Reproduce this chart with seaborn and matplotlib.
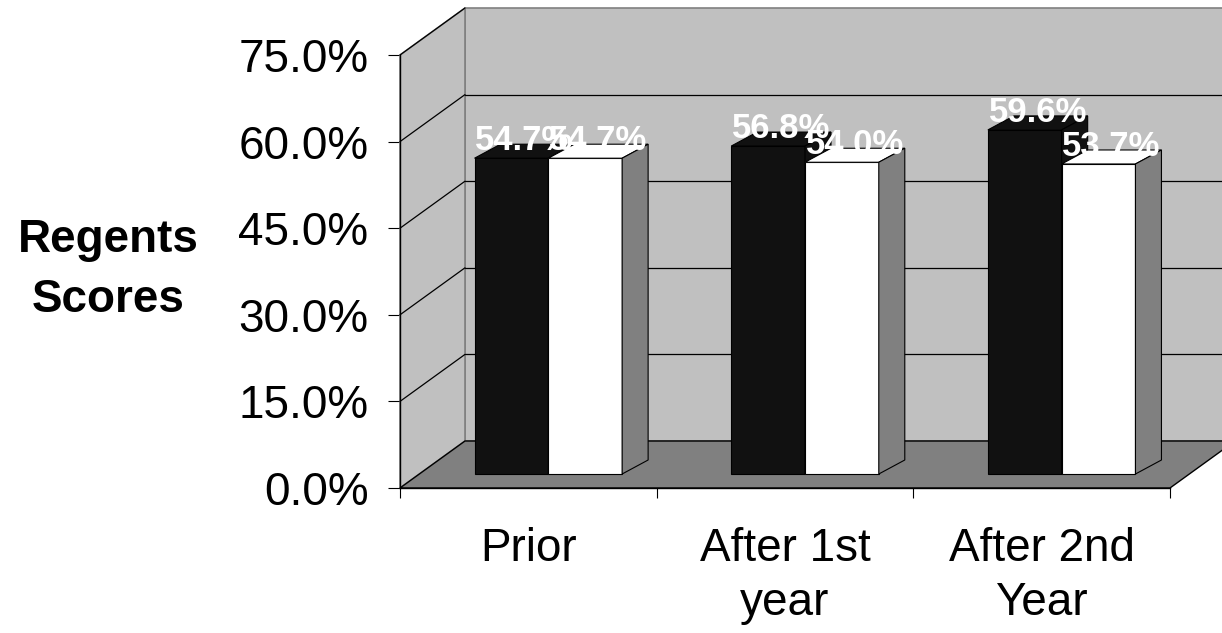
"""Regents scores before/after, drawn as an Excel-style pseudo-3D bar chart."""

import matplotlib
matplotlib.use("Agg")
import matplotlib.pyplot as plt
import matplotlib.transforms as mtransforms
import pandas as pd
import seaborn as sns
from matplotlib.patches import Polygon
from matplotlib.ticker import StrMethodFormatter

PERIODS = ["Prior", "After 1st\nyear", "After 2nd\nYear"]
GROUPS = ["Group 1", "Group 2"]
SCORES_GROUP1 = [54.7, 56.8, 59.6]
SCORES_GROUP2 = [54.7, 54.0, 53.7]
Y_TICKS = [0, 15, 30, 45, 60, 75]

FRONT_COLORS = ["#111111", "#FFFFFF"]
SIDE_COLORS = ["#111111", "#808080"]
WALL = "#C0C0C0"
FLOOR = "#808080"

# fake 3D geometry, in pixels (y up)
BAR_SHIFT = (20, 14)
BAR_DEPTH = (26, 14)
WALL_DEPTH = (65, 47)


def main() -> None:
    sns.set_theme(style="white")
    plt.rcParams["font.family"] = ["Liberation Sans", "DejaVu Sans"]
    for key in ("text.color", "axes.labelcolor", "xtick.color", "ytick.color"):
        plt.rcParams[key] = "black"

    df = pd.DataFrame({
        "period": PERIODS * 2,
        "group": [GROUPS[0]] * len(PERIODS) + [GROUPS[1]] * len(PERIODS),
        "score": SCORES_GROUP1 + SCORES_GROUP2,
    })

    fig = plt.figure(figsize=(12.22, 6.33), dpi=100)
    ax = fig.add_axes([400 / 1222, 145 / 633, 770 / 1222, 433 / 633])

    sns.barplot(
        data=df, x="period", y="score", hue="group",
        palette=FRONT_COLORS, saturation=1, width=0.575, gap=0,
        edgecolor="black", linewidth=0.8, errorbar=None, legend=False, ax=ax,
    )
    bars = list(ax.patches)

    ax.set_xlim(-0.5, 2.5)
    ax.set_ylim(0, 75)
    ax.set_autoscale_on(False)

    # pixels per data unit
    p0 = ax.transData.transform((0, 0))
    p1 = ax.transData.transform((1, 1))
    sx, sy = p1[0] - p0[0], p1[1] - p0[1]
    bdx, bdy = BAR_DEPTH[0] / sx, BAR_DEPTH[1] / sy
    wdx, wdy = WALL_DEPTH[0] / sx, WALL_DEPTH[1] / sy

    # walls and floor
    x_lo, x_hi, y_top = -0.5, 2.5, Y_TICKS[-1]
    ax.add_patch(Polygon(
        [(x_lo + wdx, wdy), (x_hi + wdx, wdy), (x_hi + wdx, y_top + wdy), (x_lo + wdx, y_top + wdy)],
        closed=True, fc=WALL, ec=FLOOR, lw=1.2, zorder=0.5, clip_on=False,
    ))
    ax.add_patch(Polygon(
        [(x_lo, 0), (x_lo + wdx, wdy), (x_lo + wdx, y_top + wdy), (x_lo, y_top)],
        closed=True, fc=WALL, ec=FLOOR, lw=1.2, zorder=0.6, clip_on=False,
    ))
    for v in Y_TICKS[1:]:
        if v < y_top:
            ax.plot([x_lo + wdx, x_hi + wdx], [v + wdy, v + wdy], color="black",
                    lw=0.9, zorder=0.7, clip_on=False)
        ax.plot([x_lo, x_lo + wdx], [v, v + wdy], color="black", lw=0.9,
                zorder=0.7, clip_on=False)
    ax.add_patch(Polygon(
        [(x_lo, 0), (x_hi, 0), (x_hi + wdx, wdy), (x_lo + wdx, wdy)],
        closed=True, fc=FLOOR, ec="black", lw=1, zorder=0.8, clip_on=False,
    ))

    # bars: push the front faces back into the box, then add tops and sides
    front = mtransforms.offset_copy(ax.transData, fig=fig, x=BAR_SHIFT[0],
                                    y=BAR_SHIFT[1], units="dots")
    label_tr = mtransforms.offset_copy(ax.transData, fig=fig, x=BAR_SHIFT[0],
                                       y=BAR_SHIFT[1] + 8, units="dots")
    n = len(PERIODS)
    for i, bar in enumerate(bars):
        g = i // n
        bar.set_transform(front)
        bar.set_zorder(3 + g)
        bar.set_clip_on(False)
        x0 = bar.get_x()
        x1 = x0 + bar.get_width()
        h = bar.get_height()
        ax.add_patch(Polygon(
            [(x0, h), (x1, h), (x1 + bdx, h + bdy), (x0 + bdx, h + bdy)],
            closed=True, fc=FRONT_COLORS[g], ec="black", lw=0.8,
            transform=front, zorder=3 + g, clip_on=False,
        ))
        ax.add_patch(Polygon(
            [(x1, 0), (x1 + bdx, bdy), (x1 + bdx, h + bdy), (x1, h)],
            closed=True, fc=SIDE_COLORS[g], ec="black", lw=0.8,
            transform=front, zorder=3 + g, clip_on=False,
        ))
        ax.text((x0 + x1) / 2 + bdx / 2, h, f"{h:.1f}%", transform=label_tr,
                ha="center", va="baseline", color="white", fontsize=25,
                fontweight="bold", zorder=10, clip_on=False)

    # axes dressing
    for side in ("top", "right"):
        ax.spines[side].set_visible(False)
    for side in ("left", "bottom"):
        ax.spines[side].set_color("black")
        ax.spines[side].set_linewidth(1)
    ax.grid(False)

    ax.set_yticks(Y_TICKS)
    ax.yaxis.set_major_formatter(StrMethodFormatter("{x:.1f}%"))
    ax.tick_params(axis="y", direction="out", length=8.6, width=0.8, pad=14,
                   labelsize=33, left=True)
    ax.set_xticks(range(n))
    ax.set_xticklabels(PERIODS)
    ax.set_xticks([-0.5, 0.5, 1.5, 2.5], minor=True)
    ax.tick_params(axis="x", which="major", length=0, pad=28, labelsize=33)
    ax.tick_params(axis="x", which="minor", direction="out", length=7.2,
                   width=0.8, bottom=True)
    for lab in ax.get_xticklabels():
        lab.set_linespacing(1.3)
    ax.set_xlabel("")
    ax.set_ylabel("")

    fig.text(108 / 1222, 1 - 270 / 633, "Regents\nScores", ha="center",
             va="center", fontsize=33, fontweight="bold", linespacing=1.5)

    fig.savefig("out.png", dpi=100)
    plt.close(fig)


if __name__ == "__main__":
    main()
